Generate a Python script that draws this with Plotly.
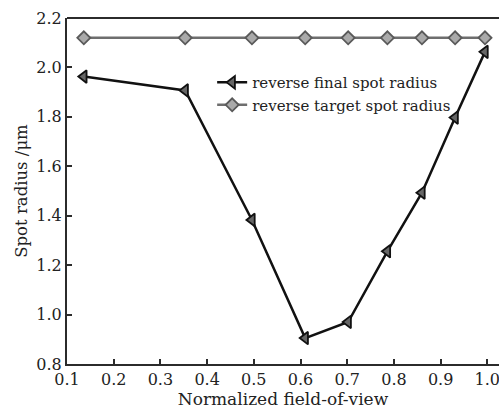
import plotly.graph_objects as go

# Normalized field-of-view sample positions
fov = [0.136, 0.353, 0.496, 0.61, 0.702, 0.786, 0.86, 0.931, 0.995]
# Reverse-optimized final spot radius (um)
final_radius = [1.963, 1.907, 1.383, 0.905, 0.970, 1.256, 1.493, 1.797, 2.063]
# Reverse target spot radius (um)
target_radius = [2.12, 2.12, 2.12, 2.12, 2.12, 2.12, 2.12, 2.12, 2.12]

x_ticks = [0.1, 0.2, 0.3, 0.4, 0.5, 0.6, 0.7, 0.8, 0.9, 1.0]
y_ticks = [0.8, 1.0, 1.2, 1.4, 1.6, 1.8, 2.0, 2.2]

FONT = "DejaVu Serif"
AX = "#2b2b2b"
TXT = "#222222"

fig = go.Figure()
fig.add_trace(go.Scatter(
    x=fov, y=final_radius, mode="lines+markers",
    name="reverse final spot radius",
    line=dict(color="#111111", width=2.5),
    marker=dict(symbol="triangle-left", size=11, color="#666666",
                line=dict(color="#111111", width=1.8)),
))
fig.add_trace(go.Scatter(
    x=fov, y=target_radius, mode="lines+markers",
    name="reverse target spot radius",
    line=dict(color="#6e6e6e", width=2.5),
    marker=dict(symbol="diamond", size=10, color="#aaaaaa",
                line=dict(color="#5a5a5a", width=1.8)),
))

axis_common = dict(
    showgrid=False, zeroline=False, showline=True, linecolor=AX, linewidth=2,
    ticks="inside", ticklen=5, tickwidth=1.5, tickcolor=AX,
    tickfont=dict(family=FONT, size=16, color=TXT),
    automargin=False,
)

fig.update_layout(
    width=499, height=412,
    margin=dict(l=67, r=0, t=18, b=48),
    paper_bgcolor="white", plot_bgcolor="white",
    showlegend=True,
    legend=dict(x=0.336, y=0.861, xanchor="left", yanchor="top",
                bgcolor="rgba(0,0,0,0)", tracegroupgap=0,
                font=dict(family=FONT, size=15, color=TXT),
                itemwidth=30),
    xaxis=dict(range=[0.1, 1.025], tickvals=x_ticks,
               ticktext=[f"{v:.1f}" for v in x_ticks],
               ticklabeloverflow="allow",
               title=dict(text="Normalized field-of-view", standoff=1,
                          font=dict(family=FONT, size=17, color=TXT)),
               **axis_common),
    yaxis=dict(range=[0.8, 2.2], tickvals=y_ticks,
               ticktext=[f"{v:.1f}" for v in y_ticks],
               title=dict(text="Spot radius /μm", standoff=5,
                          font=dict(family=FONT, size=16.5, color=TXT)),
               **axis_common),
)

# Top frame line of the plot box
fig.add_shape(type="line", xref="paper", yref="paper", x0=0, x1=1, y0=1, y1=1,
              line=dict(color=AX, width=2))

fig.write_html("out.html")
